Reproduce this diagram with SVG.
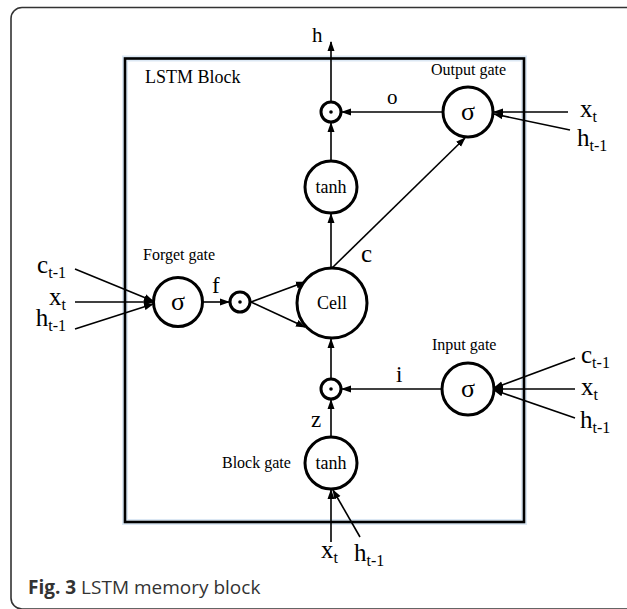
<svg xmlns="http://www.w3.org/2000/svg" width="627" height="609" viewBox="0 0 627 609">
<style>
.ser{font-family:"Liberation Serif","Times New Roman",serif;fill:#000}
.node{fill:#fff;stroke:#000;stroke-width:3}
.dot{fill:#000}
.conn line{stroke:#000;stroke-width:1.6;fill:none}
.arr{marker-end:url(#ah)}
.lbl{font-size:25px}
.sub{font-size:16px}
.gate{font-size:16px}
</style>
<defs>
<marker id="ah" markerWidth="10" markerHeight="8" refX="9" refY="4" orient="auto" markerUnits="userSpaceOnUse">
<path d="M0,0.5 L10,4 L0,7.5 z" fill="#000"/>
</marker>
</defs>
<rect width="627" height="609" fill="#fff"/>
<path d="M627,7.5 H22 A11,11 0 0 0 11,18.5 V598 A11,11 0 0 0 22,609 H627" fill="none" stroke="#333" stroke-width="1.6"/>
<g id="lstm-block">
<rect x="125" y="58.5" width="399" height="463.5" fill="none" stroke="#dce8f4" stroke-width="6"/>
<rect x="125" y="58.5" width="399" height="463.5" fill="none" stroke="#000" stroke-width="2.6"/>
<text class="ser" x="145" y="83" font-size="18">LSTM Block</text>
</g>
<g class="conn">
<line class="arr" x1="331" y1="102" x2="331" y2="42"/>
<line class="arr" x1="443" y1="112" x2="342" y2="112"/>
<line class="arr" x1="568" y1="112" x2="494" y2="112"/>
<line class="arr" x1="570" y1="130" x2="494" y2="114"/>
<line class="arr" x1="331" y1="161" x2="331" y2="123"/>
<line class="arr" x1="331" y1="268" x2="331" y2="214"/>
<line class="arr" x1="332" y1="268" x2="465" y2="138"/>
<line class="arr" x1="75" y1="269" x2="153" y2="301"/>
<line class="arr" x1="75" y1="302" x2="153" y2="302"/>
<line class="arr" x1="75" y1="329" x2="153" y2="304"/>
<line class="arr" x1="203" y1="302" x2="229" y2="302"/>
<line class="arr" x1="251" y1="302" x2="305" y2="282"/>
<line class="arr" x1="251" y1="302" x2="305" y2="327"/>
<line class="arr" x1="331" y1="379" x2="331" y2="339"/>
<line class="arr" x1="442" y1="389" x2="342" y2="389"/>
<line class="arr" x1="575" y1="358" x2="494" y2="388"/>
<line class="arr" x1="575" y1="389" x2="494" y2="389"/>
<line class="arr" x1="575" y1="418" x2="494" y2="390"/>
<line class="arr" x1="331" y1="437" x2="331" y2="400"/>
<line class="arr" x1="331" y1="542" x2="331" y2="490"/>
<line class="arr" x1="360" y1="537" x2="333" y2="490"/>
</g>
<g id="output-gate">
<circle class="node" cx="468" cy="112" r="25"/>
<text class="ser" x="468" y="120" font-size="26" text-anchor="middle">σ</text>
<text class="ser gate" x="431" y="75">Output gate</text>
</g>
<g id="output-mult">
<circle class="node" cx="331" cy="112" r="10" stroke-width="2.6"/>
<circle class="dot" cx="331" cy="112" r="1.8"/>
</g>
<g id="output-tanh">
<circle class="node" cx="331" cy="187" r="26"/>
<text class="ser" x="331" y="193" font-size="18" text-anchor="middle">tanh</text>
</g>
<g id="cell">
<circle class="node" cx="332" cy="303" r="35"/>
<text class="ser" x="332" y="309" font-size="18" text-anchor="middle">Cell</text>
</g>
<g id="forget-gate">
<circle class="node" cx="178" cy="302" r="24.5"/>
<text class="ser" x="178" y="310" font-size="26" text-anchor="middle">σ</text>
<text class="ser gate" x="143" y="260">Forget gate</text>
</g>
<g id="forget-mult">
<circle class="node" cx="240" cy="302" r="10" stroke-width="2.6"/>
<circle class="dot" cx="240" cy="302" r="1.8"/>
</g>
<g id="input-gate">
<circle class="node" cx="468" cy="389" r="26"/>
<text class="ser" x="468" y="397" font-size="26" text-anchor="middle">σ</text>
<text class="ser gate" x="432" y="350">Input gate</text>
</g>
<g id="input-mult">
<circle class="node" cx="331" cy="389" r="10" stroke-width="2.6"/>
<circle class="dot" cx="331" cy="389" r="1.8"/>
</g>
<g id="block-gate">
<circle class="node" cx="331" cy="463" r="26"/>
<text class="ser" x="331" y="469" font-size="18" text-anchor="middle">tanh</text>
<text class="ser gate" x="222" y="468">Block gate</text>
</g>
<g id="labels">
<text class="ser" x="312" y="42" font-size="21">h</text>
<text class="ser" x="387" y="104" font-size="21">o</text>
<text class="ser" x="361" y="262" font-size="25">c</text>
<text class="ser" x="212" y="293" font-size="23">f</text>
<text class="ser" x="396" y="382" font-size="23">i</text>
<text class="ser" x="311" y="427" font-size="23">z</text>
<text class="ser lbl" x="580" y="117">x<tspan class="sub" dy="5">t</tspan></text>
<text class="ser lbl" x="577" y="146">h<tspan class="sub" dy="5">t-1</tspan></text>
<text class="ser lbl" x="66" y="273" text-anchor="end">c<tspan class="sub" dy="5">t-1</tspan></text>
<text class="ser lbl" x="66" y="305" text-anchor="end">x<tspan class="sub" dy="5">t</tspan></text>
<text class="ser lbl" x="66" y="326" text-anchor="end">h<tspan class="sub" dy="5">t-1</tspan></text>
<text class="ser lbl" x="581" y="363">c<tspan class="sub" dy="5">t-1</tspan></text>
<text class="ser lbl" x="581" y="395">x<tspan class="sub" dy="5">t</tspan></text>
<text class="ser lbl" x="580" y="428">h<tspan class="sub" dy="5">t-1</tspan></text>
<text class="ser lbl" x="321" y="558">x<tspan class="sub" dy="5">t</tspan></text>
<text class="ser lbl" x="354" y="561">h<tspan class="sub" dy="5">t-1</tspan></text>
</g>
<text x="28" y="594" font-family="'Open Sans','Noto Sans',sans-serif" font-size="19" fill="#333"><tspan font-weight="bold">Fig. 3</tspan> LSTM memory block</text>
</svg>
